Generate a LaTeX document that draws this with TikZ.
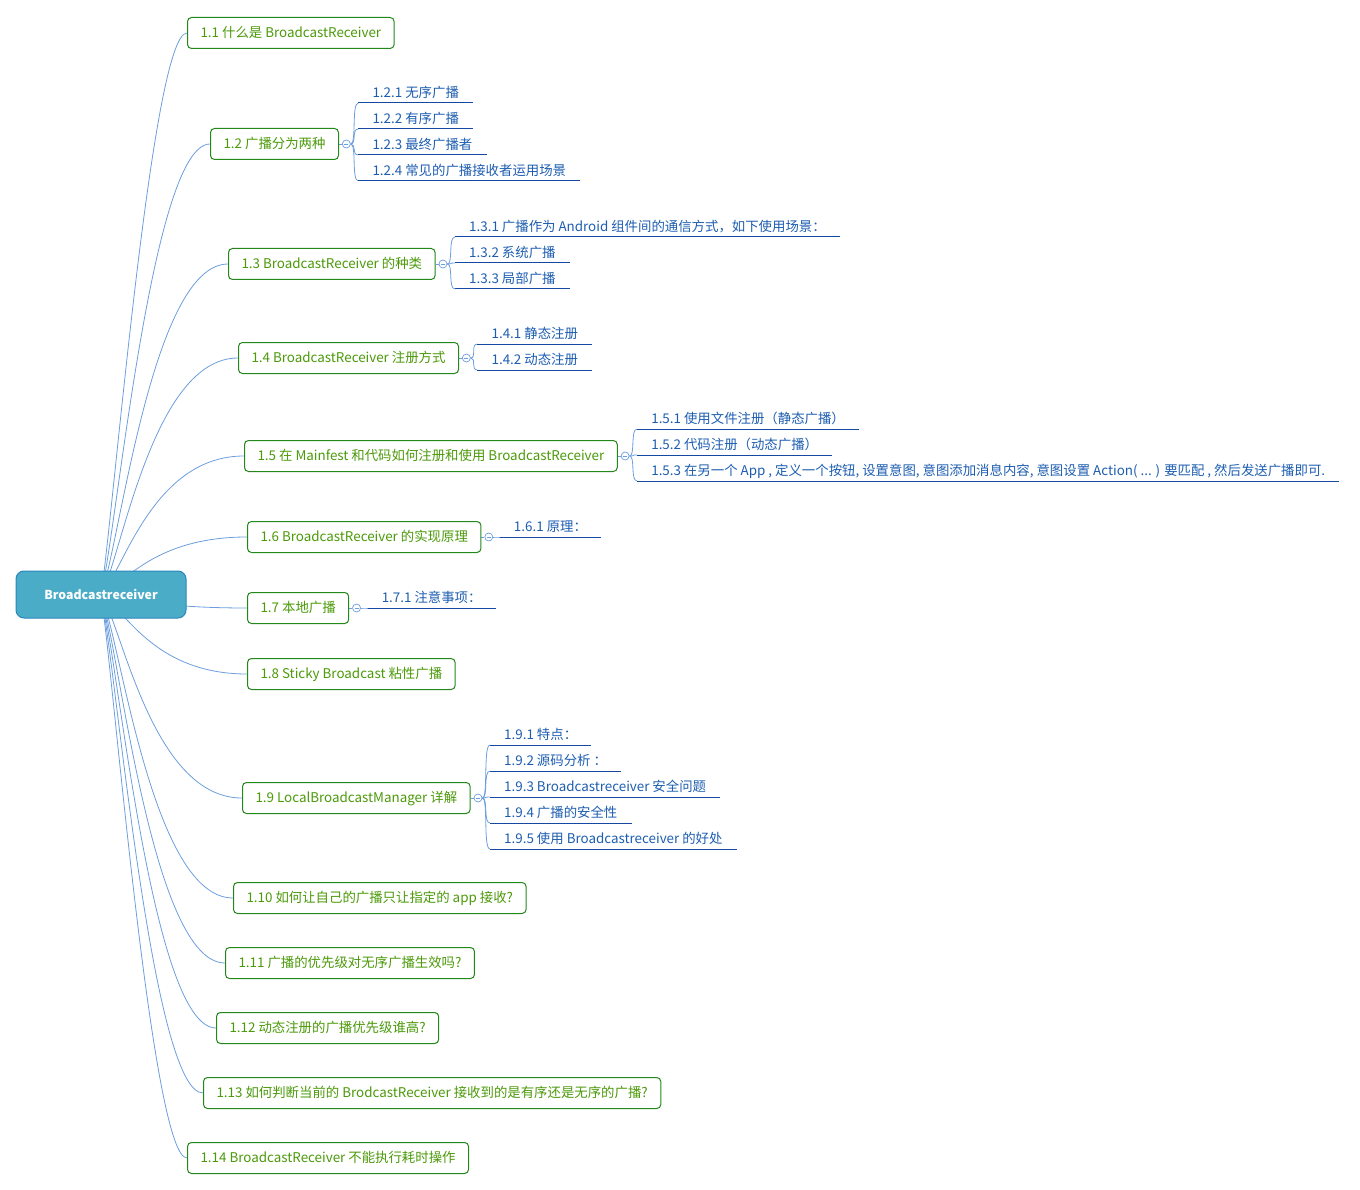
\documentclass[tikz,border=0pt]{standalone}
\usepackage{fontspec}
\setmainfont{Noto Sans CJK SC}
\usepackage{xcolor}
\usepackage{tikz}
\usetikzlibrary{calc,positioning,backgrounds}
\definecolor{root_fill}{HTML}{4AACC6}
\definecolor{root_line}{HTML}{2A86BE}
\definecolor{main_text}{HTML}{4C9A0A}
\definecolor{main_line}{HTML}{23881A}
\definecolor{sub_text}{HTML}{1D5DB0}
\definecolor{sub_line}{HTML}{1548A0}
\definecolor{link_blue}{HTML}{6C9EDD}
\tikzset{
  br_root/.style={rectangle, rounded corners=8pt, draw=root_line, fill=root_fill, text=white, font=\fontsize{12.3}{14}\selectfont\bfseries, minimum width=170pt, minimum height=47pt, line width=1pt},
  br_main/.style={rectangle, rounded corners=4pt, draw=main_line, fill=white, text=main_text, font=\fontsize{13.4}{15}\selectfont, anchor=west, minimum height=31pt, inner xsep=13pt, text height=11pt, text depth=2pt, line width=1pt},
  br_sub/.style={anchor=south west, text=sub_text, font=\fontsize{13.4}{15}\selectfont, inner xsep=14pt, inner ysep=0pt, text height=11pt, text depth=5.5pt},
  br_fold/.style={circle, draw=link_blue, fill=white, minimum size=8pt, inner sep=0pt, line width=0.7pt, path picture={\draw[link_blue, line width=0.6pt] ($(path picture bounding box.center)-(2pt,0)$) -- ($(path picture bounding box.center)+(2pt,0)$);}},
  br_link/.style={draw=link_blue, line width=0.8pt, to path={.. controls ($(\tikztostart)!0.15!(\tikztotarget)$) and (rootbend |- \tikztotarget) .. (\tikztotarget)}},
  br_twig/.style={draw=link_blue, line width=0.8pt, to path={.. controls ($(\tikztostart)+(6pt,0)$) and ($(\tikztotarget)+(-7pt,0)$) .. (\tikztotarget)}},
  br_under/.style={draw=sub_line, line width=1pt}
}
\begin{document}
\begin{tikzpicture}[x=1pt, y=-1pt]
	\useasboundingbox (0,0) rectangle (1360,1190);
	\node[br_root] (root) at (101,594.5) {Broadcastreceiver};
	\coordinate (rootbend) at (152,594.5);

	\node[br_main] (t1) at (187,33) {1.1 什么是 BroadcastReceiver};
	\node[br_main] (t2) at (210,144) {1.2 广播分为两种};
	\node[br_main] (t3) at (228,264) {1.3 BroadcastReceiver 的种类};
	\node[br_main] (t4) at (238,358) {1.4 BroadcastReceiver 注册方式};
	\node[br_main] (t5) at (244,456) {1.5 在 Mainfest 和代码如何注册和使用 BroadcastReceiver};
	\node[br_main] (t6) at (247,537) {1.6 BroadcastReceiver 的实现原理};
	\node[br_main] (t7) at (247,608) {1.7 本地广播};
	\node[br_main] (t8) at (247,674) {1.8 Sticky Broadcast 粘性广播};
	\node[br_main] (t9) at (242,798) {1.9 LocalBroadcastManager 详解};
	\node[br_main] (t10) at (233,898) {1.10 如何让自己的广播只让指定的 app 接收?};
	\node[br_main] (t11) at (225,963) {1.11 广播的优先级对无序广播生效吗?};
	\node[br_main] (t12) at (216,1028) {1.12 动态注册的广播优先级谁高?};
	\node[br_main] (t13) at (203,1093) {1.13 如何判断当前的 BrodcastReceiver 接收到的是有序还是无序的广播?};
	\node[br_main] (t14) at (187,1158) {1.14 BroadcastReceiver 不能执行耗时操作};

	\foreach \t in {2,3,4,5,6,7,9}
		\node[br_fold, right=3pt of t\t] (f\t) {};

	\node[br_sub] (s21) at ($(f2)+(12,-41)$) {1.2.1 无序广播};
	\node[br_sub] (s22) at ($(f2)+(12,-15)$) {1.2.2 有序广播};
	\node[br_sub] (s23) at ($(f2)+(12,11)$) {1.2.3 最终广播者};
	\node[br_sub] (s24) at ($(f2)+(12,37)$) {1.2.4 常见的广播接收者运用场景};

	\node[br_sub] (s31) at ($(f3)+(12,-27)$) {1.3.1 广播作为 Android 组件间的通信方式，如下使用场景：};
	\node[br_sub] (s32) at ($(f3)+(12,-1)$) {1.3.2 系统广播};
	\node[br_sub] (s33) at ($(f3)+(12,25)$) {1.3.3 局部广播};

	\node[br_sub] (s41) at ($(f4)+(11,-14)$) {1.4.1 静态注册};
	\node[br_sub] (s42) at ($(f4)+(11,12)$) {1.4.2 动态注册};

	\node[br_sub] (s51) at ($(f5)+(12,-27)$) {1.5.1 使用文件注册（静态广播）};
	\node[br_sub] (s52) at ($(f5)+(12,-1)$) {1.5.2 代码注册（动态广播）};
	\node[br_sub] (s53) at ($(f5)+(12,25)$) {1.5.3 在另一个 App , 定义一个按钮, 设置意图, 意图添加消息内容, 意图设置 Action( ... ) 要匹配 , 然后发送广播即可.};

	\node[br_sub] (s61) at ($(f6)+(11,0)$) {1.6.1 原理：};
	\node[br_sub] (s71) at ($(f7)+(11,0)$) {1.7.1 注意事项：};

	\node[br_sub] (s91) at ($(f9)+(12,-53)$) {1.9.1 特点：};
	\node[br_sub] (s92) at ($(f9)+(12,-27)$) {1.9.2 源码分析 ：};
	\node[br_sub] (s93) at ($(f9)+(12,-1)$) {1.9.3 Broadcastreceiver 安全问题};
	\node[br_sub] (s94) at ($(f9)+(12,25)$) {1.9.4 广播的安全性};
	\node[br_sub] (s95) at ($(f9)+(12,51)$) {1.9.5 使用 Broadcastreceiver 的好处};

	\foreach \s in {s21,s22,s23,s24,s31,s32,s33,s41,s42,s51,s52,s53,s61,s71,s91,s92,s93,s94,s95}
		\draw[br_under] (\s.south west) -- (\s.south east);

	\begin{scope}[on background layer]
		\foreach \t in {1,...,14}
			\draw[br_link] (root.center) to (t\t.west);
		\foreach \t in {2,3,4,5,6,7,9}
			\draw[link_blue, line width=0.8pt] (t\t.east) -- (f\t.west);
		\foreach \f/\s in {f2/s21,f2/s22,f2/s23,f2/s24,f3/s31,f3/s32,f3/s33,f4/s41,f4/s42,f5/s51,f5/s52,f5/s53,f6/s61,f7/s71,f9/s91,f9/s92,f9/s93,f9/s94,f9/s95}
			\draw[br_twig] (\f.east) to (\s.south west);
	\end{scope}
\end{tikzpicture}
\end{document}
